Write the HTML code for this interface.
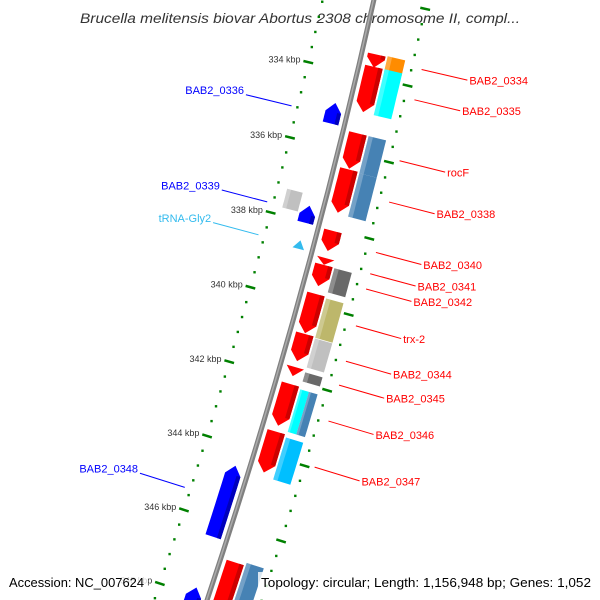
<!DOCTYPE html>
<html><head><meta charset="utf-8"><style>
html,body{margin:0;padding:0;background:#fff;width:600px;height:600px;overflow:hidden;}
svg{display:block;font-family:"Liberation Sans",sans-serif;overflow:hidden;}
</style></head><body>
<svg id="map" width="600" height="600" viewBox="0 0 600 600" xmlns="http://www.w3.org/2000/svg">
<text x="300" y="23" text-anchor="middle" font-style="italic" font-size="14" fill="#333" textLength="440" lengthAdjust="spacingAndGlyphs">Brucella melitensis biovar Abortus 2308 chromosome II, compl...</text>
<g id="layer"></g>
<rect x="6" y="572" width="142" height="20" fill="#fff" fill-opacity="0.8"/>
<text x="9" y="587" font-size="13" fill="#000" textLength="135" lengthAdjust="spacingAndGlyphs">Accession: NC_007624</text>
<rect x="258" y="572" width="336" height="20" fill="#fff" fill-opacity="0.8"/>
<text x="261" y="587" font-size="13" fill="#000" textLength="330" lengthAdjust="spacingAndGlyphs">Topology: circular; Length: 1,156,948 bp; Genes: 1,052</text>
</svg>
<script>
// ---- data ----
const geneStart = [333.41,333.73,335.48,336.43,338.05,338.77,338.95,339.72,340.78,341.66,342.11,343.38,346.88];
const geneEnd   = [333.75,334.92,336.41,337.57,338.58,338.95,339.51,340.76,341.50,341.90,343.22,344.47,348.30];
const boxStart  = [333.39,333.73,335.48,336.46,338.96,339.76,340.82,341.72,342.17,342.17,343.45,346.80];
const boxEnd    = [333.79,334.93,336.46,337.60,339.60,340.80,341.59,341.96,343.30,343.30,344.57,348.40];
const boxColor  = ["#ff8c00","#00ffff","#4682b4","#4682b4","#696969","#bdb76b","#c0c0c0","#696969","#00ffff","#4682b4","#00bfff","#4682b4"];
const boxPart   = ["full","full","full","full","full","full","full","full","inner","outer","full","full"];
const revStart  = [334.86,337.58,344.52,347.80];
const revEnd    = [335.40,338.03,346.43,348.60];
const grayStart = [337.30];
const grayEnd   = [337.80];
const trnaStart = [338.50];
const trnaEnd   = [338.72];
const rightLabels = ["BAB2_0334","BAB2_0335","rocF","BAB2_0338","BAB2_0340","BAB2_0341","BAB2_0342","trx-2","BAB2_0344","BAB2_0345","BAB2_0346","BAB2_0347"];
const rightLabelK = [333.52,334.31,335.90,336.98,338.30,338.86,339.26,340.23,341.16,341.79,342.74,343.96];
const leftLabels = ["BAB2_0336","BAB2_0339","tRNA-Gly2","BAB2_0348"];
const leftLabelK = [335.20,337.76,338.64,345.44];
const leftLabelColor = ["#0000ff","#0000ff","#33bbee","#0000ff"];
const tickKbp = [332,334,336,338,340,342,344,346,348,350];

// ---- geometry ----
const CX=-5551, CY=-1324, R=6071, T0=0.2323, DT=0.006433;
const NS="http://www.w3.org/2000/svg";
const layer=document.getElementById('layer');
function th(k){return T0+(k-334)*DT;}
function pt(r,k){const t=th(k);return [CX+r*Math.cos(t),CY+r*Math.sin(t)];}
function mk(tag,attrs){const e=document.createElementNS(NS,tag);for(const a in attrs)e.setAttribute(a,attrs[a]);layer.appendChild(e);return e;}
function arcPts(r,k1,k2,n){const p=[];for(let i=0;i<=n;i++){p.push(pt(r,k1+(k2-k1)*i/n));}return p;}
function poly(pts){return pts.map(p=>p[0].toFixed(1)+','+p[1].toFixed(1)).join(' ');}

// backbone
let bb=mk('circle',{cx:CX,cy:CY,r:R,fill:'none',stroke:'#808080','stroke-width':5});


let bb2=mk('circle',{cx:CX,cy:CY,r:R-0.5,fill:'none',stroke:'#aaaaaa','stroke-width':1.5});



// dotted tracks & ticks
[R-50,R+52].forEach((rr,ti)=>{
  for(let k=330;k<=351;k=Math.round((k+0.4)*10)/10){
    const isTick=tickKbp.some(t=>Math.abs(t-k)<0.01);
    if(isTick){
      const a=pt(rr-5,k),b=pt(rr+5,k);
      let l=mk('line',{x1:a[0],y1:a[1],x2:b[0],y2:b[1],stroke:'#008000','stroke-width':2.5});
      
      
    } else {
      const p=pt(rr,k);
      let d=mk('rect',{x:p[0]-1.2,y:p[1]-1.2,width:2.4,height:2.4,fill:'#008000'});
      
      
    }
  }
});
tickKbp.forEach(k=>{
  const p=pt(R-58,k);
  let t=mk('text',{x:p[0],y:p[1],'text-anchor':'end','dominant-baseline':'middle','font-size':9,fill:'#333'});
  t.textContent=k+' kbp';
  
  
});

// arrows
function arrow(k1,k2,r1,r2,dir,color,dark,name){
  const len=k2-k1, head=Math.min(0.24,len);
  let pts;
  const rm=(r1+r2)/2;
  if(dir>0){
    const kh=k2-head;
    pts=arcPts(r1,k1,kh,6).concat([pt(r1,kh),pt(rm,k2),pt(r2,kh)]).concat(arcPts(r2,kh,k1,6));
  } else {
    const kh=k1+head;
    pts=arcPts(r1,k2,kh,6).concat([pt(r1,kh),pt(rm,k1),pt(r2,kh)]).concat(arcPts(r2,kh,k2,6));
  }
  let g=mk('polygon',{points:poly(pts),fill:color});
  
  
  const ks=dir>0?k1:k1+head, ke=dir>0?k2-head:k2;
  if(ke>ks){
    const rs=r2-(r2-r1)*0.25;
    let s=mk('polygon',{points:poly(arcPts(rs,ks,ke,6).concat(arcPts(r2,ke,ks,6))),fill:dark});
    
    
  }
}
function box(k1,k2,r1,r2,color,name){
  let g=mk('polygon',{points:poly(arcPts(r1,k1,k2,6).concat(arcPts(r2,k2,k1,6))),fill:color});
  
  
  let s=mk('polygon',{points:poly(arcPts(r1,k1,k2,6).concat(arcPts(r1+(r2-r1)*0.25,k2,k1,6))),fill:'#fff','fill-opacity':0.25});
  
  
}
geneStart.forEach((s,i)=>arrow(s,geneEnd[i],R+6,R+24,1,'#ff0000','#cc0000','forward-gene'));
boxStart.forEach((s,i)=>{
  let r1=R+26,r2=R+44;
  if(boxPart[i]==='inner')r2=R+35;
  if(boxPart[i]==='outer')r1=R+35;
  box(s,boxEnd[i],r1,r2,boxColor[i],'gene-feature-box');
});
revStart.forEach((s,i)=>arrow(s,revEnd[i],R-22,R-6,-1,'#0000ff','#0000bb','reverse-gene'));
grayStart.forEach((s,i)=>box(s,grayEnd[i],R-40,R-24,'#c0c0c0','reverse-feature-box'));
trnaStart.forEach((s,i)=>arrow(s,trnaEnd[i],R-20,R-8,-1,'#33bbee','#33bbee','trna-gene'));

// labels
rightLabels.forEach((lab,i)=>{
  const k=rightLabelK[i], a=pt(R+62,k), b=pt(R+109,k), c=pt(R+111,k);
  let l=mk('line',{x1:a[0],y1:a[1],x2:b[0],y2:b[1],stroke:'#ff0000','stroke-width':1});
  
  
  let t=mk('text',{x:c[0],y:c[1]+1,'dominant-baseline':'middle','font-size':11,fill:'#ff0000'});
  t.textContent=lab;
  
  
});
leftLabels.forEach((lab,i)=>{
  const k=leftLabelK[i], a=pt(R-56,k), b=pt(R-103,k), c=pt(R-105,k);
  let l=mk('line',{x1:a[0],y1:a[1],x2:b[0],y2:b[1],stroke:leftLabelColor[i],'stroke-width':1});
  
  
  let t=mk('text',{x:c[0],y:c[1]-3,'text-anchor':'end','dominant-baseline':'middle','font-size':11,fill:leftLabelColor[i]});
  t.textContent=lab;
  
  
});
</script>
</body></html>
